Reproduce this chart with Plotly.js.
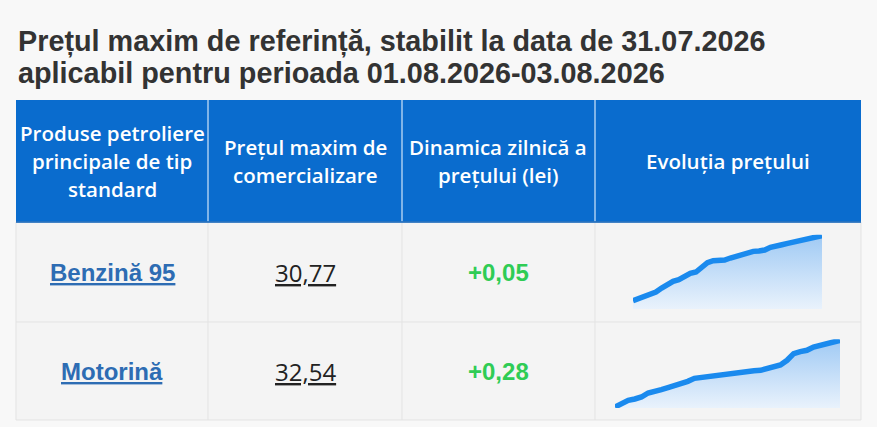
<!DOCTYPE html>
<html>
<head>
<meta charset="utf-8">
<script src="https://cdn.plot.ly/plotly-3.0.1.min.js"></script>
<style>html,body{margin:0;padding:0;background:#f8f8f8;}</style>
</head>
<body>
<div id="chart" style="width:877px;height:427px;"></div>
<script>
// ---- data ----
const titleLines = [
  'Prețul maxim de referință, stabilit la data de 31.07.2026',
  'aplicabil pentru perioada 01.08.2026-03.08.2026'
];
const headers = [
  ['Produse petroliere', 'principale de tip', 'standard'],
  ['Prețul maxim de', 'comercializare'],
  ['Dinamica zilnică a', 'prețului (lei)'],
  ['Evoluția prețului']
];
const products = ['Benzină 95', 'Motorină'];
const maxPrices = [30.77, 32.54];
const dailyChange = [0.05, 0.28];
const benzinaEvolution = [28.82, 28.88, 28.98, 29.04, 29.08, 29.20, 29.32, 29.40, 29.45, 29.55,
  29.64, 29.68, 29.80, 29.96, 30.02, 30.02, 30.04, 30.10, 30.16, 30.22, 30.26, 30.30, 30.31,
  30.34, 30.42, 30.48, 30.50, 30.54, 30.58, 30.62, 30.68, 30.72, 30.74, 30.77];
const motorinaEvolution = [30.54, 30.64, 30.74, 30.78, 30.84, 30.96, 31.03, 31.06, 31.12, 31.18,
  31.21, 31.31, 31.40, 31.43, 31.44, 31.46, 31.49, 31.52, 31.56, 31.59, 31.62, 31.63, 31.64,
  31.70, 31.76, 31.80, 31.94, 32.14, 32.20, 32.24, 32.34, 32.40, 32.42, 32.48, 32.54];
const evolutions = [benzinaEvolution, motorinaEvolution];
const evolutionFloor = [28.57, 30.51];

// ---- layout geometry (pixels) ----
const W = 877, H = 427;
const colEdges = [16, 208, 402, 595, 861];
const headerTop = 100, headerBottom = 222;
const rowEdges = [222, 322, 420];
const sparkBox = [ // [left, right, top, bottom] in px
  [633, 822, 234.7, 309],
  [615, 840, 339.3, 408]
];
const headerLineGap = 28.5;
const px = v => v / W;
const py = v => 1 - v / H;
const fmt = v => v.toFixed(2).replace('.', ',');

const shapes = [];
const annotations = [];

// header band
shapes.push({type:'rect', xref:'paper', yref:'paper', layer:'below',
  x0:px(colEdges[0]), x1:px(colEdges[4]), y0:py(headerBottom), y1:py(headerTop),
  fillcolor:'#0a6cce', line:{width:0}});
// body
shapes.push({type:'rect', xref:'paper', yref:'paper', layer:'below',
  x0:px(colEdges[0]), x1:px(colEdges[4]), y0:py(rowEdges[2]), y1:py(rowEdges[0]),
  fillcolor:'#f4f4f4', line:{color:'#e3e3e3', width:1}});
// column separators
for (let i = 1; i < colEdges.length - 1; i++) {
  shapes.push({type:'line', xref:'paper', yref:'paper', layer:'below',
    x0:px(colEdges[i]), x1:px(colEdges[i]), y0:py(headerBottom), y1:py(headerTop),
    line:{color:'#a9cdf1', width:1.5}});
  shapes.push({type:'line', xref:'paper', yref:'paper', layer:'below',
    x0:px(colEdges[i]), x1:px(colEdges[i]), y0:py(rowEdges[2]), y1:py(rowEdges[0]),
    line:{color:'#e3e3e3', width:1}});
}
// row separator
shapes.push({type:'line', xref:'paper', yref:'paper', layer:'below',
  x0:px(colEdges[0]), x1:px(colEdges[4]), y0:py(rowEdges[1]), y1:py(rowEdges[1]),
  line:{color:'#e3e3e3', width:1}});
// header bottom edge
shapes.push({type:'line', xref:'paper', yref:'paper', layer:'below',
  x0:px(colEdges[0]), x1:px(colEdges[4]), y0:py(headerBottom), y1:py(headerBottom),
  line:{color:'#0a5fb8', width:1.5}});

// title
const titleY = [41, 73];
titleLines.forEach((t, i) => annotations.push({
  text:t, xref:'paper', yref:'paper', x:px(16), y:py(titleY[i]),
  xanchor:'left', yanchor:'middle', showarrow:false,
  font:{family:'Liberation Sans, Arial, sans-serif', size:28.8, color:'#333333', weight:700}
}));

// header text (one annotation per line)
const headerMid = (headerTop + headerBottom) / 2;
headers.forEach((lines, i) => {
  const n = lines.length;
  lines.forEach((ln, k) => annotations.push({
    text:ln, xref:'paper', yref:'paper',
    x:px((colEdges[i] + colEdges[i+1]) / 2), y:py(headerMid + (k - (n - 1) / 2) * headerLineGap),
    xanchor:'center', yanchor:'middle', align:'center', showarrow:false,
    font:{family:'Open Sans, sans-serif', size:20.5, color:'#ffffff', weight:600}
  }));
});

// body text
products.forEach((p, r) => {
  const yMid = py((rowEdges[r] + rowEdges[r+1]) / 2);
  annotations.push({text:p, xref:'paper', yref:'paper', x:px((colEdges[0]+colEdges[1])/2), y:yMid,
    xanchor:'center', yanchor:'middle', showarrow:false,
    font:{family:'Liberation Sans, Arial, sans-serif', size:24, color:'#2d6cb3', weight:700, lineposition:'under'}});
  annotations.push({text:fmt(maxPrices[r]), xref:'paper', yref:'paper', x:px((colEdges[1]+colEdges[2])/2), y:yMid,
    xanchor:'center', yanchor:'middle', showarrow:false,
    font:{family:'Open Sans, sans-serif', size:24, color:'#222222', lineposition:'under'}});
  annotations.push({text:(dailyChange[r] >= 0 ? '+' : '') + fmt(dailyChange[r]), xref:'paper', yref:'paper',
    x:px((colEdges[2]+colEdges[3])/2), y:yMid,
    xanchor:'center', yanchor:'middle', showarrow:false,
    font:{family:'Liberation Sans, Arial, sans-serif', size:24, color:'#2fcc55', weight:700}});
});

// sparklines
const traces = [];
const layout = {
  width:W, height:H, margin:{l:0, r:0, t:0, b:0},
  paper_bgcolor:'#f8f8f8', plot_bgcolor:'rgba(0,0,0,0)',
  showlegend:false, shapes:shapes, annotations:annotations
};
evolutions.forEach((vals, r) => {
  const sfx = r === 0 ? '' : String(r + 1);
  const xs = vals.map((_, i) => i);
  const top = Math.max(...vals) + 0.03;
  traces.push({
    type:'scatter', mode:'lines', x:xs, y:vals, xaxis:'x' + sfx, yaxis:'y' + sfx,
    line:{color:'#1a8aee', width:5.5}, fill:'tozeroy',
    fillgradient:{type:'vertical', start:evolutionFloor[r], stop:Math.max(...vals),
      colorscale:[[0, '#e9f2fc'], [1, '#a0caf4']]},
    hoverinfo:'skip'
  });
  const b = sparkBox[r];
  const axBase = {showgrid:false, zeroline:false, showticklabels:false, showline:false, ticks:'', fixedrange:true};
  layout['xaxis' + sfx] = Object.assign({}, axBase, {domain:[px(b[0]), px(b[1])], range:[0, vals.length - 1], anchor:'y' + sfx});
  layout['yaxis' + sfx] = Object.assign({}, axBase, {domain:[py(b[3]), py(b[2])], range:[evolutionFloor[r], top], anchor:'x' + sfx});
});

Plotly.newPlot('chart', traces, layout, {displayModeBar:false, staticPlot:true});
</script>
</body>
</html>
